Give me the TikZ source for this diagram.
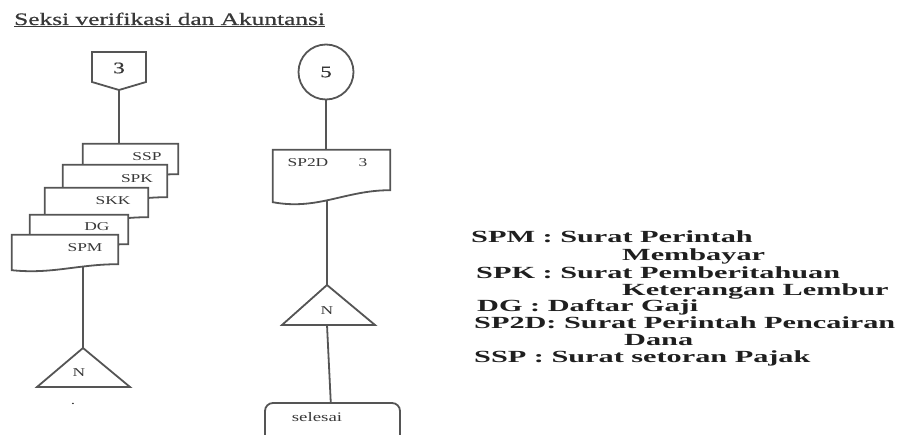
\documentclass[tikz,border=0pt]{standalone}
\usepackage{fontspec}
\setmainfont{Liberation Serif}
\newfontfamily\docfont[FakeStretch=1.45]{Liberation Serif}
\newfontfamily\titlefont[FakeStretch=1.45, FakeBold=0.6]{Liberation Serif}
\newfontfamily\legendfont[FakeStretch=1.78]{Liberation Serif}
\usetikzlibrary{backgrounds}

\definecolor{inkgray}{HTML}{555555}
\definecolor{txtgray}{HTML}{383838}

\tikzset{
  flowline/.style={draw=inkgray, line width=1.8pt},
  docbox/.style={inner sep=0pt, draw=none},
  doctext/.style={font=\docfont\fontsize{12}{12}\selectfont, text=txtgray, inner sep=0pt},
  signtext/.style={font=\titlefont\fontsize{16}{16}\selectfont, text=txtgray, inner sep=0pt},
  legend/.style={font=\legendfont\bfseries\fontsize{17}{17}\selectfont, text=black!88, anchor=base west, inner sep=0pt}
}

% outline of a document sheet: name, rise of right end, pull of the wave
\newcommand{\docpage}[3]{%
  \path[flowline, fill=white] (#1.north west) -- (#1.north east)
    -- ([yshift=#2]#1.south east)
    .. controls +(-#3,0pt) and +(#3,-0.7*#2) .. (#1.south west) -- cycle;}

\begin{document}
\begin{tikzpicture}[x=1pt, y=-1pt]
   \useasboundingbox (0,0) rectangle (904,435);
   \clip (0,0) rectangle (904,435);

   \node[anchor=base west, inner sep=0pt, text=txtgray,
         font=\titlefont\fontsize{17.5}{17.5}\selectfont] (title) at (14,25)
         {\underline{Seksi verifikasi dan Akuntansi}};

   % left column
   \node[signtext] (c3) at (119,68) {3};
   \draw[flowline] (c3.center) ++(-27,-16) -- ++(54,0) -- ++(0,30) -- ++(-27,8) -- ++(-27,-8) -- cycle;
   \coordinate (c3tip) at (119,90);

   \node[docbox, minimum width=95pt, minimum height=36pt] (ssp) at (130.5,162) {};
   \node[docbox, minimum width=104pt, minimum height=38pt] (spk) at (115,184) {};
   \node[docbox, minimum width=103pt, minimum height=35pt] (skk) at (96.5,205.5) {};
   \node[docbox, minimum width=98pt, minimum height=35pt] (dg) at (79,232.5) {};
   \node[docbox, minimum width=106pt, minimum height=35pt] (spm) at (65,252.5) {};

   \coordinate (m1) at (83,348);
   \draw[flowline] (m1) -- ++(-46,39) -- ++(93,0) -- cycle;
   \node[doctext] (n1) at (79,373) {N};
   \node[doctext] (dot) at (73,404) {.};

   % right column
   \node[circle, flowline, fill=white, minimum size=55pt, inner sep=0pt] (c5) at (326,72) {};
   \node[signtext] (c5t) at (326,72) {5};

   \node[docbox, minimum width=117pt, minimum height=52pt] (sp2d) at (331.5,176) {};

   \coordinate (m2) at (327,285);
   \draw[flowline] (m2) -- ++(-45,40) -- ++(93,0) -- cycle;
   \node[doctext] (n2) at (327,311) {N};
   \coordinate (b2) at (327,325);

   \node[flowline, fill=white, rounded corners=8pt, minimum width=135pt,
         minimum height=70pt] (fin) at (332.5,438) {};
   \node[doctext, font=\docfont\fontsize{13}{13}\selectfont] (fint) at (317,417) {selesai};

   \begin{pgfonlayer}{background}
      \draw[flowline] (c3tip) -- (c3tip |- ssp.center);
      \draw[flowline] (m1) -- (m1 |- spm.center);
      \draw[flowline] (c5) -- (c5 |- sp2d.center);
      \draw[flowline] (m2) -- (m2 |- sp2d.center);
      \draw[flowline] (b2) -- (fin);
   \end{pgfonlayer}

   \docpage{ssp}{6pt}{40pt}
   \node[doctext] (sspt) at (147,157) {SSP};
   \docpage{spk}{6pt}{40pt}
   \node[doctext] (spkt) at (137,179) {SPK};
   \docpage{skk}{6pt}{40pt}
   \node[doctext] (skkt) at (113,201) {SKK};
   \docpage{dg}{6pt}{40pt}
   \node[doctext] (dgt) at (97,227) {DG};
   \docpage{spm}{6pt}{40pt}
   \node[doctext] (spmt) at (85,248) {SPM};

   \docpage{sp2d}{12pt}{45pt}
   \node[doctext] (sp2dt) at (308,163) {SP2D};
   \node[doctext] (sp2dn) at (363,163) {3};

   % legend
   \node[legend] (l1) at (471,243) {SPM : Surat Perintah};
   \node[legend] (l1b) at (622,261) {Membayar};
   \node[legend] (l2) at (476,279) {SPK : Surat Pemberitahuan};
   \node[legend] (l2b) at (622,296) {Keterangan Lembur};
   \node[legend] (l3) at (477,312) {DG : Daftar Gaji};
   \node[legend] (l4) at (474,328) {SP2D: Surat Perintah Pencairan};
   \node[legend] (l4b) at (624,345) {Dana};
   \node[legend] (l5) at (474,362) {SSP : Surat setoran Pajak};
\end{tikzpicture}
\end{document}
